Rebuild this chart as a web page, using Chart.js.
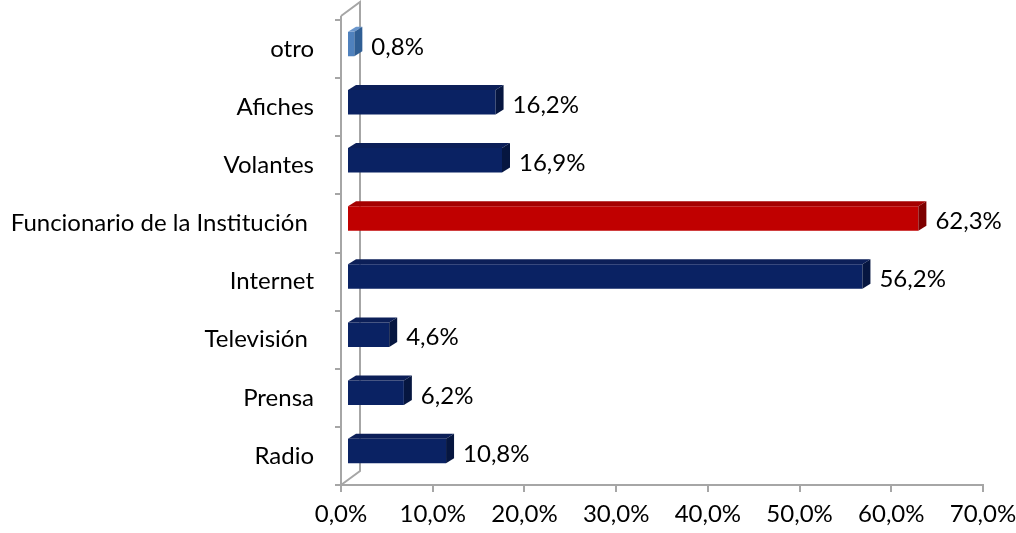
<!DOCTYPE html>
<html>
<head>
<meta charset="utf-8">
<script src="https://cdn.jsdelivr.net/npm/chart.js@4/dist/chart.umd.min.js"></script>
<style>
  html, body { margin: 0; padding: 0; background: #fff; }
  canvas { display: block; }
</style>
</head>
<body>
<canvas id="chart" width="1016" height="533"></canvas>
<script>
// datos del grafico (de arriba hacia abajo)
const categories = ['otro', 'Afiches', 'Volantes', 'Funcionario de la Institución ', 'Internet', 'Televisión ', 'Prensa', 'Radio'];
const percentValues = [0.8, 16.2, 16.9, 62.3, 56.2, 4.6, 6.2, 10.8];
const xTickValues = [0, 10, 20, 30, 40, 50, 60, 70];

const highlightCategory = 'Funcionario de la Institución ';
const otherCategory = 'otro';

const FONT = 'Lato';
const FONT_SIZE = 24;
const axisColor = '#A6A6A6';
// profundidad del efecto 3D
const WALL_DX = 19, WALL_DY = 14;
const BAR_DX = 6, BAR_DY = 5;
const DEPTH_X = 8, DEPTH_Y = 5;

function pctLabel(v) {
  return v.toFixed(1).replace('.', ',') + '%';
}

function barColors(cat) {
  if (cat === highlightCategory) return { front: '#C00000', top: '#A50000', side: '#7E0000' };
  if (cat === otherCategory) return { front: '#4F81BD', top: '#6A96CC', side: '#2F5E94' };
  return { front: '#0A2263', top: '#0C1F58', side: '#061640' };
}

const bars3d = {
  id: 'bars3d',
  beforeDatasetsDraw(chart) {
    const { ctx, chartArea: a } = chart;
    // pared lateral (linea de fondo)
    ctx.save();
    ctx.strokeStyle = axisColor;
    ctx.lineWidth = 2;
    ctx.beginPath();
    ctx.moveTo(a.left, a.top - 4);
    ctx.lineTo(a.left + WALL_DX, a.top - 4 - WALL_DY);
    ctx.lineTo(a.left + WALL_DX, a.bottom - WALL_DY);
    ctx.lineTo(a.left, a.bottom);
    ctx.stroke();
    ctx.beginPath();
    ctx.moveTo(a.left, a.top - 4);
    ctx.lineTo(a.left, a.top);
    ctx.stroke();
    ctx.restore();
    // las barras se dibujan un poco hacia el fondo
    ctx.save();
    ctx.translate(BAR_DX, -BAR_DY);
  },
  afterDatasetsDraw(chart) {
    const ctx = chart.ctx;
    const meta = chart.getDatasetMeta(0);
    meta.data.forEach((bar, i) => {
      const { x, y, base, height } = bar.getProps(['x', 'y', 'base', 'height'], true);
      const t = y - height / 2, b = y + height / 2;
      const c = barColors(categories[i]);

      // cara superior
      ctx.fillStyle = c.top;
      ctx.beginPath();
      ctx.moveTo(base, t);
      ctx.lineTo(x, t);
      ctx.lineTo(x + DEPTH_X, t - DEPTH_Y);
      ctx.lineTo(base + DEPTH_X, t - DEPTH_Y);
      ctx.closePath();
      ctx.fill();

      // cara lateral
      ctx.fillStyle = c.side;
      ctx.beginPath();
      ctx.moveTo(x, t);
      ctx.lineTo(x + DEPTH_X, t - DEPTH_Y);
      ctx.lineTo(x + DEPTH_X, b - DEPTH_Y);
      ctx.lineTo(x, b);
      ctx.closePath();
      ctx.fill();

      // etiqueta de valor
      ctx.fillStyle = '#000';
      ctx.font = FONT_SIZE + 'px ' + FONT;
      ctx.textAlign = 'left';
      ctx.textBaseline = 'middle';
      ctx.fillText(pctLabel(percentValues[i]), x + 17, y + 3);
    });
    ctx.restore();
  }
};

new Chart(document.getElementById('chart'), {
  type: 'bar',
  data: {
    labels: categories,
    datasets: [{
      data: percentValues,
      backgroundColor: categories.map(cat => barColors(cat).front),
      borderWidth: 0,
      barPercentage: 0.42,
      categoryPercentage: 1,
      clip: false
    }]
  },
  options: {
    indexAxis: 'y',
    responsive: false,
    animation: false,
    layout: { padding: { top: 20, right: 33, left: 0, bottom: 0 } },
    plugins: {
      legend: { display: false },
      tooltip: { enabled: false }
    },
    scales: {
      x: {
        min: xTickValues[0],
        max: xTickValues[xTickValues.length - 1],
        afterFit(scale) {
          scale.height = 48;
          scale.paddingLeft = 0;
          scale.paddingRight = 0;
        },
        afterBuildTicks(scale) { scale.ticks = xTickValues.map(v => ({ value: v })); },
        grid: { drawOnChartArea: false, drawTicks: true, tickLength: 7, color: axisColor, lineWidth: 2 },
        border: { display: true, color: axisColor, width: 2 },
        ticks: {
          color: '#000',
          padding: 8,
          font: { family: FONT, size: FONT_SIZE },
          callback: v => pctLabel(v)
        }
      },
      y: {
        afterFit(scale) {
          scale.width = 341;
          scale.paddingTop = 0;
          scale.paddingBottom = 0;
        },
        grid: { drawOnChartArea: false, drawTicks: true, tickLength: 6, color: axisColor, lineWidth: 2 },
        border: { display: true, color: axisColor, width: 2 },
        ticks: {
          color: '#000',
          padding: 21,
          font: { family: FONT, size: FONT_SIZE }
        }
      }
    }
  },
  plugins: [bars3d]
});
</script>
</body>
</html>
